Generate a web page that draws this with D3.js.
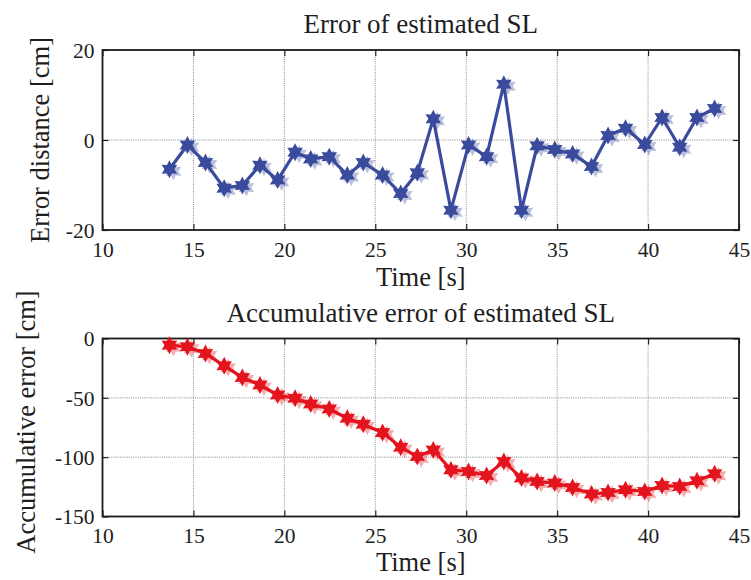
<!DOCTYPE html>
<html>
<head>
<meta charset="utf-8">
<script src="https://cdn.jsdelivr.net/npm/d3@7"></script>
<style>
  html, body { margin: 0; padding: 0; background: #fff; }
  svg { display: block; }
  svg text { font-family: "Liberation Serif", "Times New Roman", Tinos, serif; }
</style>
</head>
<body>
<svg id="fig" width="751" height="580"></svg>
<script>
// Sample times (s) of each step-length estimate
const timeS = [13.68, 14.67, 15.66, 16.69, 17.69, 18.66, 19.63, 20.59, 21.45, 22.47,
               23.46, 24.34, 25.40, 26.40, 27.31, 28.19, 29.16, 30.13, 31.12, 32.07,
               33.04, 33.90, 34.87, 35.85, 36.89, 37.80, 38.76, 39.82, 40.77, 41.74,
               42.69, 43.66];

// Per-step error of the estimated step length (cm)
const errorCm = [-6.5, -1.1, -5.0, -10.7, -10.1, -5.6, -8.9, -2.7, -4.2, -3.7,
                 -7.8, -5.0, -7.8, -11.9, -7.3, 4.7, -15.6, -1.1, -3.7, 12.4,
                 -15.6, -1.3, -2.1, -3.1, -5.9, 1.0, 2.6, -1.0, 5.0, -1.6,
                 5.0, 7.0];

// Accumulated error over the walk (cm)
const accumErrorCm = [-5.6, -7.0, -12.6, -23.0, -32.8, -39.2, -47.6, -50.4, -55.2, -59.4,
                      -67.2, -72.3, -79.3, -91.6, -99.5, -93.9, -110.7, -112.1, -115.5, -103.7,
                      -117.6, -120.5, -121.8, -125.5, -131.1, -129.7, -127.5, -128.9, -123.9, -124.7,
                      -119.9, -114.0];

// Axis ticks
const timeTicks = [10, 15, 20, 25, 30, 35, 40, 45];
const errorTicks = [-20, 0, 20];
const accumTicks = [-150, -100, -50, 0];

// Text
const topTitle = "Error of estimated SL";
const topYLabel = "Error distance [cm]";
const bottomTitle = "Accumulative error of estimated SL";
const bottomYLabel = "Accumulative error [cm]";
const xLabel = "Time [s]";

const svg = d3.select("#fig");
const textColor = "#1e1e1e";
const plainNumber = d => String(d);   // ASCII hyphen for negatives

// six-pointed star marker
const hexagram = {
  draw(ctx, size) {
    const R = Math.sqrt(size) * 0.62;
    const r = R * 0.55;
    for (let i = 0; i < 12; i++) {
      const a = -Math.PI / 2 + i * Math.PI / 6;
      const rad = i % 2 === 0 ? R : r;
      const px = rad * Math.cos(a), py = rad * Math.sin(a);
      if (i === 0) ctx.moveTo(px, py); else ctx.lineTo(px, py);
    }
    ctx.closePath();
  }
};

function drawPanel(opt) {
  const { left, right, top, bottom } = opt.box;
  const x = d3.scaleLinear().domain([10, 45]).range([left, right]);
  const y = d3.scaleLinear().domain(opt.yDomain).range([bottom, top]);
  const g = svg.append("g");

  // dotted grid at interior ticks
  const grid = g.append("g").attr("stroke", "#8a8a8a").attr("stroke-width", 1)
    .attr("stroke-dasharray", "1,1.2");
  grid.selectAll("line.vx").data(timeTicks.slice(1, -1)).join("line")
    .attr("x1", d => x(d)).attr("x2", d => x(d))
    .attr("y1", top).attr("y2", bottom);
  grid.selectAll("line.hy").data(opt.yTicks.filter(t => t !== opt.yDomain[0] && t !== opt.yDomain[1])).join("line")
    .attr("x1", left).attr("x2", right)
    .attr("y1", d => y(d)).attr("y2", d => y(d));

  // inward ticks on all four sides
  const tickLen = 6;
  const ax = g.append("g");
  ax.append("g").attr("transform", `translate(0,${bottom})`)
    .call(d3.axisTop(x).tickValues(timeTicks).tickSize(tickLen).tickFormat(""));
  ax.append("g").attr("transform", `translate(0,${top})`)
    .call(d3.axisBottom(x).tickValues(timeTicks).tickSize(tickLen).tickFormat(""));
  ax.append("g").attr("transform", `translate(${left},0)`)
    .call(d3.axisRight(y).tickValues(opt.yTicks).tickSize(tickLen).tickFormat(""));
  ax.append("g").attr("transform", `translate(${right},0)`)
    .call(d3.axisLeft(y).tickValues(opt.yTicks).tickSize(tickLen).tickFormat(""));
  ax.selectAll(".domain").remove();
  ax.selectAll(".tick line").attr("stroke", "#222").attr("stroke-width", 1.2);

  // tick labels
  const xl = g.append("g").attr("transform", `translate(0,${bottom})`)
    .call(d3.axisBottom(x).tickValues(timeTicks).tickSize(0).tickPadding(0).tickFormat(plainNumber));
  xl.attr("font-family", null).attr("font-size", null);
  xl.select(".domain").remove();
  xl.selectAll("text").attr("font-size", 21.5).attr("fill", textColor)
    .attr("dy", null).attr("y", 26.5);

  const yl = g.append("g").attr("transform", `translate(${left},0)`)
    .call(d3.axisLeft(y).tickValues(opt.yTicks).tickSize(0).tickPadding(0).tickFormat(plainNumber));
  yl.attr("font-family", null).attr("font-size", null);
  yl.select(".domain").remove();
  yl.selectAll("text").attr("font-size", 21.5).attr("fill", textColor)
    .attr("x", -8).attr("dy", "0.34em");

  // frame
  g.append("rect").attr("x", left).attr("y", top)
    .attr("width", right - left).attr("height", bottom - top)
    .attr("fill", "none").attr("stroke", "#1a1a1a").attr("stroke-width", 1.8);

  // series
  const pts = timeS.map((t, i) => [t, opt.values[i]]);
  const line = d3.line().x(d => x(d[0])).y(d => y(d[1]));
  g.append("path").datum(pts).attr("d", line)
    .attr("fill", "none").attr("stroke", opt.color).attr("stroke-width", 3.2)
    .attr("stroke-linejoin", "round");

  const sym = d3.symbol().type(hexagram).size(210);
  const mk = g.append("g");
  mk.selectAll("path.ghost").data(pts).join("path").attr("class", "ghost")
    .attr("transform", d => `translate(${x(d[0]) + 4},${y(d[1]) + 2})`)
    .attr("d", sym).attr("fill", opt.color).attr("opacity", 0.35);
  mk.selectAll("path.mark").data(pts).join("path").attr("class", "mark")
    .attr("transform", d => `translate(${x(d[0])},${y(d[1])})`)
    .attr("d", sym).attr("fill", opt.color);

  // title and axis labels
  const cx = (left + right) / 2;
  g.append("text").attr("x", cx).attr("y", opt.titleY).attr("text-anchor", "middle")
    .attr("font-size", 27).attr("fill", textColor).text(opt.title);
  g.append("text").attr("x", cx).attr("y", opt.xLabelY).attr("text-anchor", "middle")
    .attr("font-size", 26.5).attr("fill", textColor).text(xLabel);
  g.append("text")
    .attr("transform", `translate(${opt.yLabelX},${opt.yLabelCY}) rotate(-90)`)
    .attr("text-anchor", "middle").attr("font-size", 26.5).attr("fill", textColor)
    .text(opt.yLabel);
}

drawPanel({
  box: { left: 102.5, right: 739, top: 50, bottom: 230 },
  yDomain: [-20, 20], yTicks: errorTicks, values: errorCm,
  color: "#3a4a9c", title: topTitle, titleY: 33, xLabelY: 286,
  yLabel: topYLabel, yLabelX: 49, yLabelCY: 140
});

drawPanel({
  box: { left: 102.5, right: 739, top: 338.5, bottom: 516.5 },
  yDomain: [-150, 0], yTicks: accumTicks, values: accumErrorCm,
  color: "#e3141e", title: bottomTitle, titleY: 322, xLabelY: 571,
  yLabel: bottomYLabel, yLabelX: 35, yLabelCY: 422
});
</script>
</body>
</html>
